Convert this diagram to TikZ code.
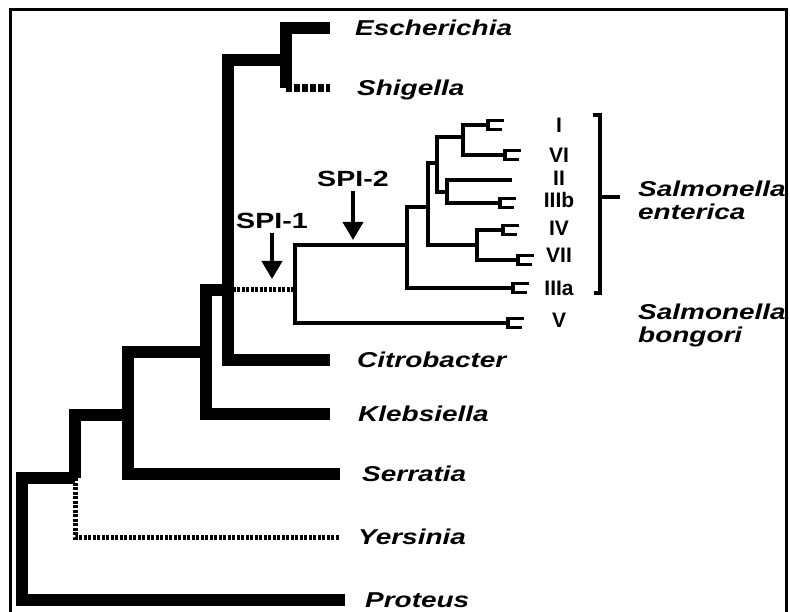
\documentclass[tikz,border=0pt]{standalone}
\usepackage{fontspec}
\newfontfamily\taxfont{Liberation Sans}[FakeStretch=1.3]
\newfontfamily\numfont{Liberation Sans}
\usetikzlibrary{arrows.meta}

\begin{document}
\begin{tikzpicture}[x=1pt,y=-1pt,
		trunk/.style={line width=12.5pt},
		twig/.style={line width=3.5pt},
		spotty/.style={line width=5pt, dash pattern=on 3pt off 1.5pt},
		taxon/.style={font=\taxfont\bfseries\itshape\fontsize{21.5}{23}\selectfont,
			anchor=west, inner sep=0pt, text height=15pt, text depth=0pt},
		serovar/.style={font=\numfont\bfseries\fontsize{21}{23}\selectfont,
			inner sep=0pt, text height=15pt, text depth=0pt},
		island/.style={font=\taxfont\bfseries\fontsize{22}{24}\selectfont,
			inner sep=0pt, text height=16pt, text depth=0pt},
		hit/.style={line width=4pt, -{Triangle[width=20pt,length=18pt]}},
		fork/.pic={\draw[twig] (16,-4.5) -- (0,-4.5) -- (0,4.5) -- (14,4.5);}]
	\useasboundingbox (0,0) rectangle (790,612);
	\draw[line width=3pt] (10,612) |- (786,10) -- (786,612);

	% tips and branch points of the backbone
	\coordinate (esch) at (330,28);
	\coordinate (shig) at (330,88);
	\coordinate (citro) at (330,360);
	\coordinate (kleb) at (330,414);
	\coordinate (serr) at (340,474);
	\coordinate (yers) at (340,537);
	\coordinate (prot) at (345,600);
	\coordinate (nES) at (286,60);
	\coordinate (nA) at (228,290);
	\coordinate (nB) at (206,290);
	\coordinate (nC) at (128,352);
	\coordinate (nD) at (75,415);
	\coordinate (nR) at (22,478);
	\coordinate (nSal) at (295,290);

	\draw[trunk] (esch) -| (nES) -| (nA) |- (citro);
	\draw[trunk] (nES) -- (nES |- shig);
	\draw[trunk, line width=8pt, dash pattern=on 6pt off 2pt] (nES |- shig) -- (shig);
	\draw[trunk] (nA) -- (nB) |- (kleb);
	\draw[trunk] (nB |- nC) -- (nC) |- (serr);
	\draw[trunk] (nC |- nD) -- (nD) -- (nD |- nR);
	\draw[spotty] (nD |- nR) |- (yers);
	\draw[trunk] (nD |- nR) -- (nR) |- (prot);
	\draw[spotty] (nA) -- (nSal);

	% Salmonella
	\coordinate (nEnt) at (407,245);
	\coordinate (nT) at (428,207);
	\coordinate (nU) at (437,163);
	\coordinate (nIVI) at (463,137);
	\coordinate (nIIb) at (447,192);
	\coordinate (nIVVII) at (477,245);
	\coordinate (tI) at (488,125);
	\coordinate (tVI) at (505,155);
	\coordinate (tII) at (512,180);
	\coordinate (tIIIb) at (500,203);
	\coordinate (tIV) at (503,230);
	\coordinate (tVII) at (518,260);
	\coordinate (tIIIa) at (513,288);
	\coordinate (tV) at (508,323);

	\draw[twig] (nEnt) -- (nSal |- nEnt) |- (tV);
	\draw[twig] (nT) -| (nEnt) |- (tIIIa);
	\draw[twig] (nU) -| (nT) |- (nIVVII);
	\draw[twig] (nIVI) -| (nU) |- (nIIb);
	\draw[twig] (tI) -| (nIVI) |- (tVI);
	\draw[twig] (tII) -| (nIIb) |- (tIIIb);
	\draw[twig] (tIV) -| (nIVVII) |- (tVII);
	\foreach \t in {tI,tVI,tIIIb,tIV,tVII,tIIIa,tV}
		\pic at (\t) {fork};

	\foreach \s/\y in {I/125,VI/155,II/178,IIIb/200,IV/228,VII/255,IIIa/288,V/320}
		\node[serovar] (l\s) at (559,\y) {\s};

	% bracket
	\coordinate (brTop) at (600,115);
	\coordinate (brBot) at (600,293);
	\coordinate (brMid) at (600,197);
	\draw[twig] ([xshift=-7pt]brTop) -- (brTop) -- (brBot) -- ([xshift=-6pt]brBot);
	\draw[twig] (brMid) -- ++(20,0);

	% names
	\node[taxon] (lEsch) at (355,28) {Escherichia};
	\node[taxon] (lShig) at (357,88) {Shigella};
	\node[taxon] (lEnt1) at (638,189) {Salmonella};
	\node[taxon] (lEnt2) at (638,212) {enterica};
	\node[taxon] (lBon1) at (638,312) {Salmonella};
	\node[taxon] (lBon2) at (638,335) {bongori};
	\node[taxon] (lCitro) at (357,360) {Citrobacter};
	\node[taxon] (lKleb) at (358,414) {Klebsiella};
	\node[taxon] (lSerr) at (362,474) {Serratia};
	\node[taxon] (lYers) at (358,537) {Yersinia};
	\node[taxon] (lProt) at (365,600) {Proteus};

	% pathogenicity islands
	\node[island] (spiA) at (272,221) {SPI-1};
	\node[island] (spiB) at (353,179) {SPI-2};
	\coordinate (spiAhit) at (272,279);
	\coordinate (spiBhit) at (353,240);
	\draw[hit] ([yshift=-4pt]spiA.south) -- (spiAhit);
	\draw[hit] ([yshift=-4pt]spiB.south) -- (spiBhit);
\end{tikzpicture}
\end{document}
